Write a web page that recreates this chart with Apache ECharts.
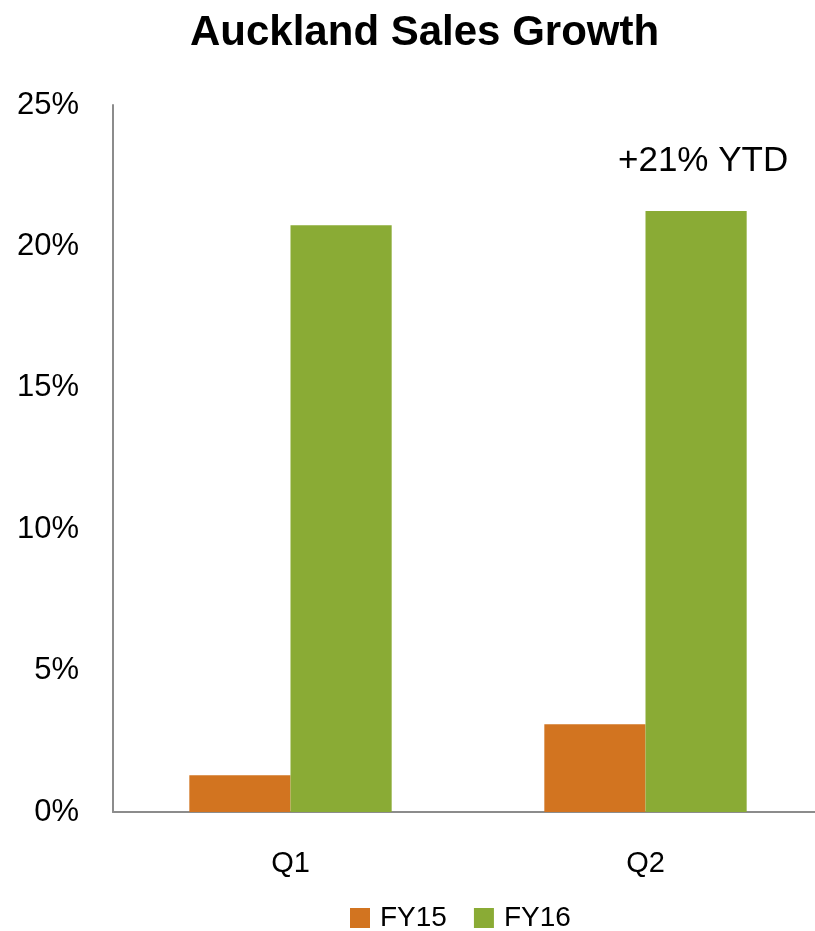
<!DOCTYPE html>
<html>
<head>
<meta charset="utf-8">
<title>Auckland Sales Growth</title>
<script src="https://cdn.jsdelivr.net/npm/echarts@6/dist/echarts.min.js"></script>
<style>
  html, body { margin: 0; padding: 0; background: #fff; overflow: hidden; }
  /* the plot runs slightly past the right edge of the page */
  #chart { width: 823px; height: 931px; }
</style>
</head>
<body>
<div id="chart"></div>
<script>
// Quarterly sales growth, Auckland (percent)
const quarters = ['Q1', 'Q2'];
const fy15 = [1.3, 3.1];
const fy16 = [20.75, 21.25];
const seriesNames = ['FY15', 'FY16'];
const ytdNote = '+21% YTD';

const FONT = '"Liberation Sans", Arial, Helvetica, sans-serif';
const chart = echarts.init(document.getElementById('chart'), null, { renderer: 'canvas' });

chart.setOption({
  animation: false,
  backgroundColor: '#ffffff',
  textStyle: { fontFamily: FONT, color: '#000' },
  graphic: [{
    type: 'text',
    left: 190,
    top: 12,
    style: {
      text: 'Auckland Sales Growth',
      font: 'bold 42px ' + FONT,
      fill: '#000'
    }
  }],
  legend: {
    data: seriesNames,
    left: 350,
    top: 904,
    padding: 0,
    icon: 'rect',
    itemWidth: 20,
    itemHeight: 20,
    itemGap: 27,
    textStyle: { fontFamily: FONT, fontSize: 28, color: '#000', padding: [0, 0, 0, 5] }
  },
  grid: { left: 113, right: 0, top: 105, bottom: 119, containLabel: false },
  xAxis: {
    type: 'category',
    data: quarters,
    axisLine: { lineStyle: { color: '#8c8c8c', width: 2 } },
    axisTick: { show: false },
    axisLabel: { fontFamily: FONT, fontSize: 29, color: '#000', margin: 37 }
  },
  yAxis: {
    type: 'value',
    min: 0,
    max: 25,
    interval: 5,
    axisLine: { show: true, lineStyle: { color: '#8c8c8c', width: 2 } },
    axisTick: { show: false },
    splitLine: { show: false },
    axisLabel: { fontFamily: FONT, fontSize: 31, color: '#000', margin: 34, padding: [4, 0, 0, 0], formatter: '{value}%' }
  },
  series: [
    {
      name: seriesNames[0],
      type: 'bar',
      data: fy15,
      barGap: '0%',
      barCategoryGap: '43%',
      itemStyle: { color: '#D27420' }
    },
    {
      name: seriesNames[1],
      type: 'bar',
      data: fy16.map((v, i) => i === fy16.length - 1 ? {
        value: v,
        label: {
          show: true,
          position: 'top',
          distance: 32,
          offset: [7, 0],
          formatter: ytdNote,
          fontFamily: FONT,
          fontSize: 35,
          color: '#000'
        }
      } : v),
      barGap: '0%',
      barCategoryGap: '43%',
      itemStyle: { color: '#8AAB35' }
    }
  ]
});
</script>
</body>
</html>
